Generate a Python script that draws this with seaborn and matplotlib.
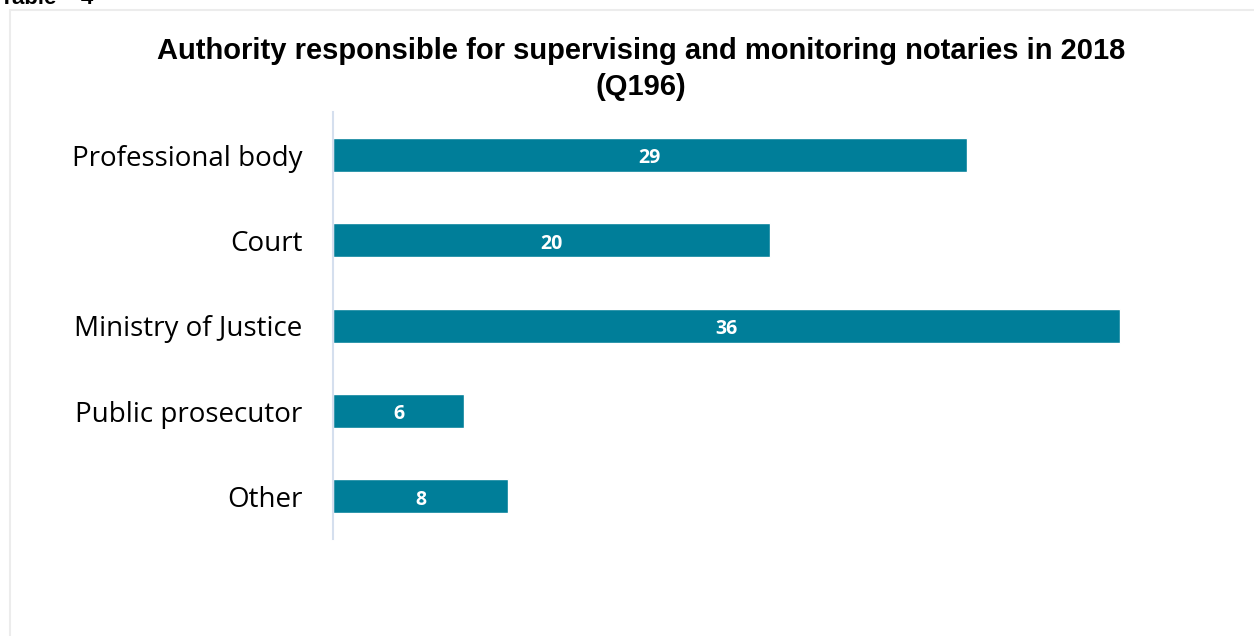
import pandas as pd
import seaborn as sns
import matplotlib.pyplot as plt
from matplotlib.patches import Rectangle

# Data
categories = ["Professional body", "Court", "Ministry of Justice", "Public prosecutor", "Other"]
counts = [29, 20, 36, 6, 8]

data = pd.DataFrame({"authority": categories, "count": counts})

sns.set_style("white")
plt.rcParams["font.family"] = ["Open Sans", "DejaVu Sans"]

fig = plt.figure(figsize=(12.54, 6.36), dpi=100)

# light frame around the chart area
fig.patches.append(Rectangle((10 / 1254, -0.1), 1.1, (626 / 636) + 0.1,
                             transform=fig.transFigure, fill=False,
                             edgecolor="#ececec", linewidth=1.5))

# caption at the very top (cut off in the original as well)
fig.text(0 / 1254, 1 - 4 / 636, "Table    4", ha="left", va="baseline",
         fontsize=16, fontweight="bold", family="Liberation Sans", color="black")

ax = fig.add_axes([333 / 1254, 97 / 636, 874 / 1254, 426.6 / 636])

sns.barplot(data=data, x="count", y="authority", color="#007E99",
            width=0.4, saturation=1, ax=ax)

for bar, v in zip(ax.patches, counts):
    ax.text(bar.get_width() / 2, bar.get_y() + bar.get_height() / 2 + 0.01, str(v),
            ha="center", va="center_baseline", color="white", fontsize=14,
            fontweight="bold")

ax.set_xlim(0, 40)
ax.set_ylim(4.5, -0.5)
ax.set_xlabel("")
ax.set_ylabel("")
ax.set_xticks([])
ax.tick_params(axis="y", labelsize=20, length=0, pad=22, labelcolor="black")
for s in ["top", "right", "bottom"]:
    ax.spines[s].set_visible(False)
ax.spines["left"].set_color("#d5dfee")
ax.spines["left"].set_linewidth(1.5)

fig.text(641 / 1254, 1 - 69 / 636,
         "Authority responsible for supervising and monitoring notaries in 2018\n(Q196)",
         ha="center", va="center", fontsize=21, fontweight="bold",
         family="Liberation Sans", linespacing=1.32, color="black")

fig.savefig("out.png", dpi=100)
